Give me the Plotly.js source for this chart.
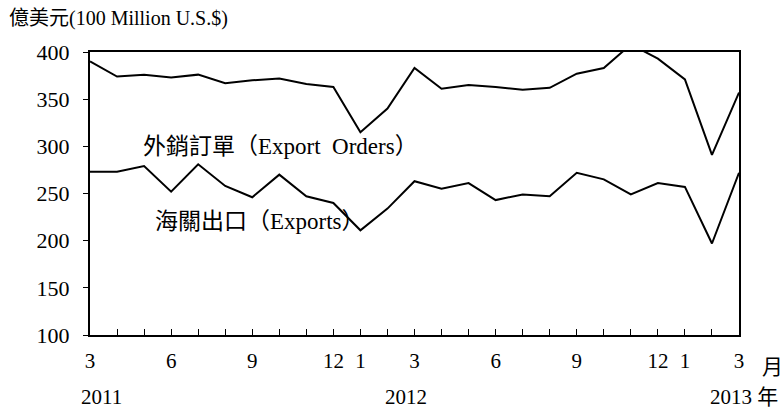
<!DOCTYPE html>
<html>
<head>
<meta charset="utf-8">
<script src="https://cdn.plot.ly/plotly-3.0.1.min.js"></script>
<style>
html,body{margin:0;padding:0;background:#fff;}
#chart{width:783px;height:411px;}
</style>
</head>
<body>
<div id="chart"></div>
<script>
const months = ['2011-03','2011-04','2011-05','2011-06','2011-07','2011-08','2011-09','2011-10','2011-11','2011-12',
  '2012-01','2012-02','2012-03','2012-04','2012-05','2012-06','2012-07','2012-08','2012-09','2012-10','2012-11','2012-12',
  '2013-01','2013-02','2013-03'];
const monthLabels = ['3','','','6','','','9','','','12','1','','3','','','6','','','9','','','12','1','','3'];
const exportOrders = [390,374,376,373,376,367,370,372,366,363,315,340,383,361,365,363,360,362,377,383,408,393,371,291,357];
const customsExports = [273,273,279,252,281,258,246,270,247,240,211,234,263,255,261,243,249,247,272,265,249,261,257,197,272];
const yTicks = [100,150,200,250,300,350,400];
const yearLabels = [
  {text:'2011', month:'2011-03', dx:11},
  {text:'2012', month:'2012-03', dx:-9}
];

const FONT = '"Liberation Serif", "Times New Roman", "Noto Sans CJK TC", serif';
const W = 783, H = 411, L = 90, R = 44, T = 52, B = 76;
const pw = W - L - R, ph = H - T - B;
const px = v => (v - L) / pw;
const py = v => (H - B - v) / ph;

const traces = [
  {x: months, y: exportOrders, type:'scatter', mode:'lines', name:'外銷訂單',
   line:{color:'#000', width:2}},
  {x: months, y: customsExports, type:'scatter', mode:'lines', name:'海關出口',
   line:{color:'#000', width:2}}
];

const ann = [
  {text:'億美元(100 Million U.S.$)', xref:'paper', yref:'paper', x:px(7), y:py(18), xanchor:'left', yanchor:'middle', showarrow:false, font:{family:FONT, size:20, color:'#000'}},
  {text:'外銷訂單（Export  Orders）', xref:'paper', yref:'paper', x:px(141), y:py(146), xanchor:'left', yanchor:'middle', showarrow:false, font:{family:FONT, size:23, color:'#000'}},
  {text:'海關出口（Exports）', xref:'paper', yref:'paper', x:px(153), y:py(221), xanchor:'left', yanchor:'middle', showarrow:false, font:{family:FONT, size:23, color:'#000'}},
  {text:'月', xref:'paper', yref:'paper', x:px(773), y:py(367), xanchor:'center', yanchor:'middle', showarrow:false, font:{family:FONT, size:21, color:'#000'}},
  {text:'2013 年', xref:'paper', yref:'paper', x:px(708), y:py(397), xanchor:'left', yanchor:'middle', showarrow:false, font:{family:FONT, size:21, color:'#000'}}
];
yearLabels.forEach(o => {
  ann.push({text:o.text, xref:'x', yref:'paper', x:months.indexOf(o.month), xshift:o.dx, y:py(397), xanchor:'center', yanchor:'middle', showarrow:false, font:{family:FONT, size:21, color:'#000'}});
});

const layout = {
  width: W, height: H,
  margin:{l:L, r:R, t:T, b:B, pad:0},
  paper_bgcolor:'#fff', plot_bgcolor:'#fff',
  showlegend:false,
  font:{family:FONT, size:21, color:'#000'},
  xaxis:{
    type:'category', range:[0, months.length-1],
    tickvals: months, ticktext: monthLabels,
    ticks:'inside', ticklen:6, tickwidth:1, tickcolor:'#000',
    showline:true, linecolor:'#000', linewidth:2, mirror:true,
    showgrid:false, zeroline:false, tickangle:0,
    ticklabelstandoff:6,
    tickfont:{family:FONT, size:21, color:'#000'}
  },
  yaxis:{
    range:[100,400], tickvals:yTicks,
    ticks:'outside', ticklen:5, tickwidth:1, tickcolor:'#000',
    showline:true, linecolor:'#000', linewidth:2, mirror:true,
    showgrid:false, zeroline:false,
    ticklabelstandoff:9,
    tickfont:{family:FONT, size:22, color:'#000'}
  },
  annotations: ann
};

Plotly.newPlot('chart', traces, layout, {staticPlot:true, displayModeBar:false});
</script>
</body>
</html>
